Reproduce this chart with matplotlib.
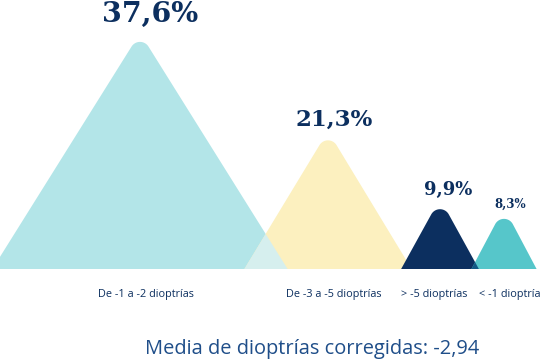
import numpy as np
import matplotlib.pyplot as plt

# datos
categorias = ['De -1 a -2 dioptrías', 'De -3 a -5 dioptrías', '> -5 dioptrías', '< -1 dioptría']
porcentajes = [37.6, 21.3, 9.9, 8.3]
etiquetas = ['37,6%', '21,3%', '9,9%', '8,3%']
media_texto = 'Media de dioptrías corregidas: -2,94'

# estilo / posiciones (pixeles)
centros = [140, 328, 440, 504]
colores = ['#b3e5e8', '#fcf0bf', '#0c2f5f', '#56c6ca']
x_etiqueta = [150, 334, 448, 510]
hueco = [20, 15, 14, 11]
tam_valor = [20.5, 16.5, 13, 8.5]
x_categoria = [146, 334, 434, 510]

PX = 6.04       # pixeles por punto porcentual
BASE = 269      # linea base en pixeles desde arriba
ANCHO = 0.65    # semi-base / alto
R = 10.0        # radio de la punta redondeada, px


def perfil(x, c, v):
    # triangulo con la punta redondeada, alto en %
    top = v * PX
    semi = ANCHO * top
    # punta aguda tal que el arco de radio R quede en "top"
    apice = top
    for _ in range(20):
        alfa = np.arctan(semi / apice)
        apice = top + R / np.sin(alfa) - R
    tan = apice / semi
    yc = top - R
    dx = np.abs(x - c)
    h = apice - dx * tan
    dentro = dx <= R * np.cos(alfa)
    h[dentro] = yc + np.sqrt(R ** 2 - dx[dentro] ** 2)
    return np.clip(h, 0, None) / PX


def y_de_px(py):
    return (BASE - py) / PX


fig = plt.figure(figsize=(5.41, 3.61), dpi=100)
ax = fig.add_axes([0, 0, 1, 1])
ax.set_xlim(0, 541)
ax.set_ylim(y_de_px(361), y_de_px(0))
ax.axis('off')

x = np.linspace(0, 541, 4000)
perfiles = [perfil(x, c, v) for c, v in zip(centros, porcentajes)]

ax.fill_between(x, 0, perfiles[0], color=colores[0], lw=0)
ax.fill_between(x, 0, perfiles[1], color=colores[1], lw=0)
ax.fill_between(x, 0, np.minimum(perfiles[0], perfiles[1]), color='#d6efee', lw=0)
ax.fill_between(x, 0, perfiles[2], color=colores[2], lw=0)
ax.fill_between(x, 0, perfiles[3], color=colores[3], lw=0)
ax.fill_between(x, 0, np.minimum(perfiles[2], perfiles[3]), color='#125885', lw=0)

for xe, v, et, g, fs in zip(x_etiqueta, porcentajes, etiquetas, hueco, tam_valor):
    ax.text(xe, v + g / PX, et, ha='center', va='baseline', fontsize=fs,
            fontweight='bold', family='DejaVu Serif', color='#0c2f5f')

for xc, cat in zip(x_categoria, categorias):
    ax.text(xc, y_de_px(295), cat, ha='center', va='center', fontsize=7.8,
            family='Open Sans', color='#0c2f5f')

ax.text(312, y_de_px(349), media_texto, ha='center', va='center', fontsize=14.4,
        family='Open Sans', color='#1f4e89')

fig.savefig('out.png', dpi=100)
